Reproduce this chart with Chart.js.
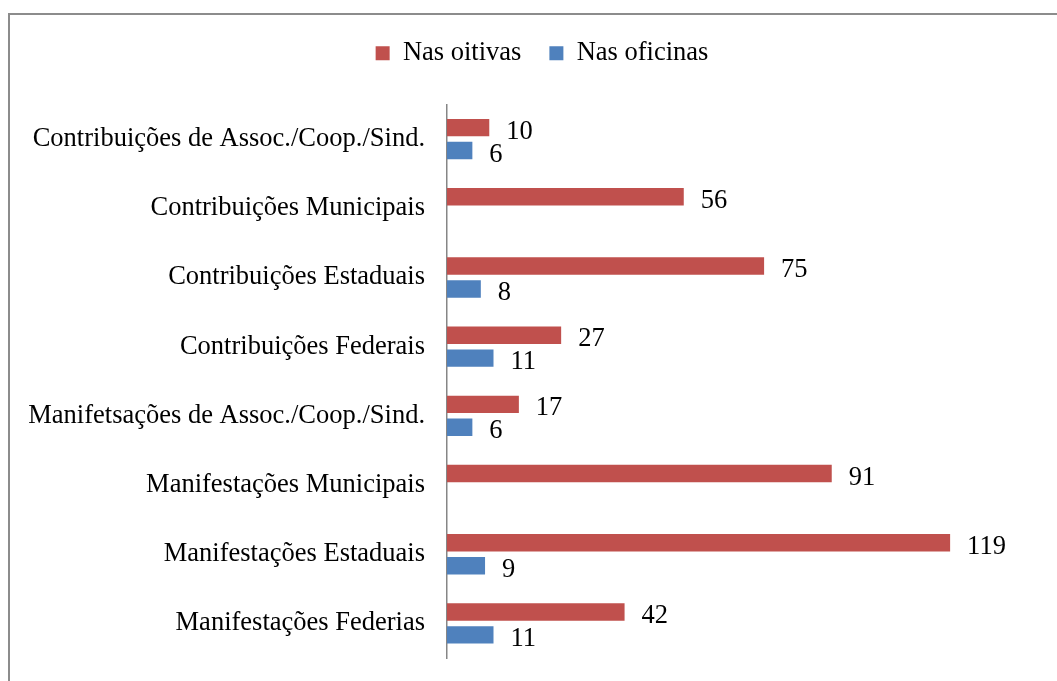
<!DOCTYPE html>
<html>
<head>
<meta charset="utf-8">
<script src="https://cdn.jsdelivr.net/npm/chart.js@4.4.1/dist/chart.umd.min.js"></script>
<style>
  html, body { margin: 0; padding: 0; background: #fff; overflow: hidden; }
  #frame { position: absolute; left: 8px; top: 13px; width: 1200px; height: 800px; border: 2px solid #8c8c8c; }
  #grafico { position: absolute; left: 0; top: 0; }
</style>
</head>
<body>
<div id="frame"></div>
<canvas id="grafico" width="1100" height="681"></canvas>
<script>
// Categorias (de cima para baixo)
const categorias = [
  "Contribuições de Assoc./Coop./Sind.",
  "Contribuições Municipais",
  "Contribuições Estaduais",
  "Contribuições Federais",
  "Manifetsações de Assoc./Coop./Sind.",
  "Manifestações Municipais",
  "Manifestações Estaduais",
  "Manifestações Federias"
];
const nasOitivas = [10, 56, 75, 27, 17, 91, 119, 42];
const nasOficinas = [6, null, 8, 11, 6, null, 9, 11];

const fonte = "'Liberation Serif', 'Times New Roman', serif";
const tam = 26.5;

// rótulos de valor à direita das barras
const rotulos = {
  id: 'rotulos',
  afterDatasetsDraw(chart) {
    const ctx = chart.ctx;
    ctx.save();
    ctx.font = tam + 'px ' + fonte;
    ctx.fillStyle = '#000';
    ctx.textAlign = 'left';
    ctx.textBaseline = 'alphabetic';
    chart.data.datasets.forEach((ds, i) => {
      chart.getDatasetMeta(i).data.forEach((bar, j) => {
        const v = ds.data[j];
        if (v === null || v === undefined) return;
        ctx.fillText(String(v), bar.x + 17, bar.y + 11);
      });
    });
    ctx.restore();
  }
};

new Chart(document.getElementById('grafico'), {
  type: 'bar',
  data: {
    labels: categorias,
    datasets: [
      { label: 'Nas oitivas', data: nasOitivas, backgroundColor: '#C0504D' },
      { label: 'Nas oficinas', data: nasOficinas, backgroundColor: '#4F81BD' }
    ]
  },
  options: {
    indexAxis: 'y',
    responsive: false,
    animation: false,
    maintainAspectRatio: false,
    categoryPercentage: 0.664,
    barPercentage: 0.76,
    layout: { padding: { top: 12, left: 10, right: 26, bottom: 23 } },
    scales: {
      x: {
        position: 'top',
        min: 0,
        max: 148.3,
        ticks: { display: false },
        grid: { display: false, drawTicks: false },
        border: { display: false },
        afterFit: s => { s.height = 28; }
      },
      y: {
        ticks: { color: '#000', font: { family: fonte, size: tam }, padding: 22 },
        grid: { display: false, drawTicks: false },
        border: { display: true, color: '#868686', width: 1.5 },
        afterFit: s => {
          s.width = 437;
          s.paddingTop = 0;
          s.paddingBottom = 0;
        }
      }
    },
    plugins: {
      legend: {
        position: 'top',
        labels: {
          color: '#000',
          font: { family: fonte, size: tam },
          boxWidth: 14,
          boxHeight: 14,
          padding: 28
        }
      },
      tooltip: { enabled: false }
    }
  },
  plugins: [rotulos]
});
</script>
</body>
</html>
